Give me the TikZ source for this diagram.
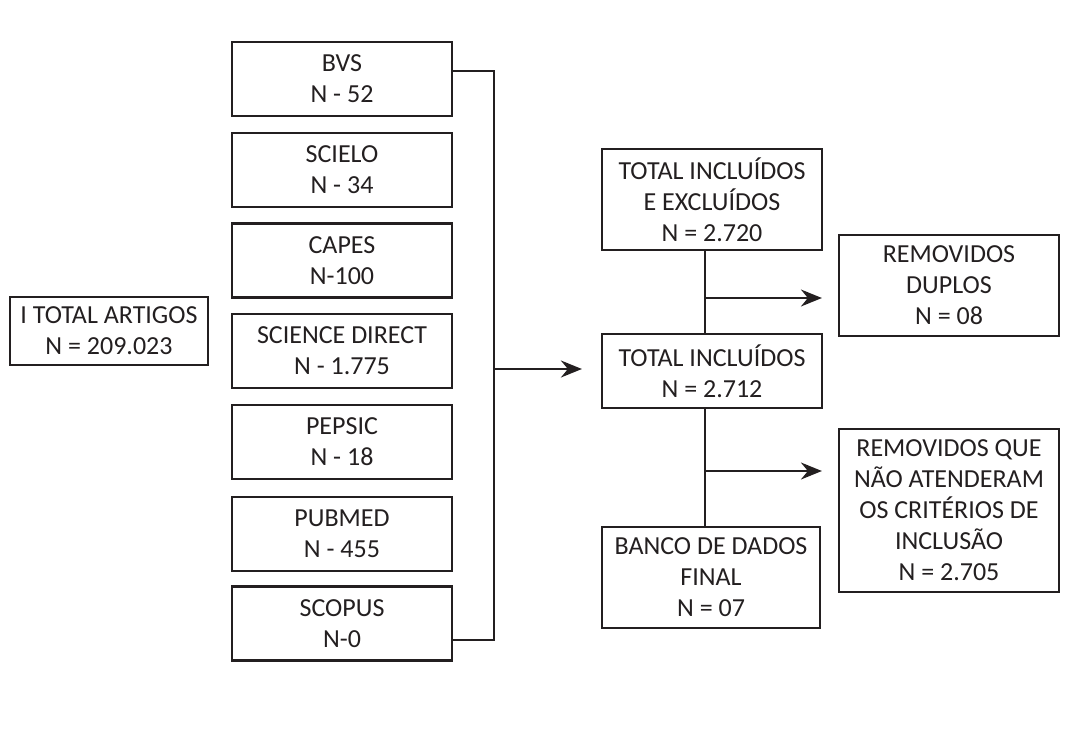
\documentclass[tikz,border=0pt]{standalone}
\usepackage{fontspec}
\setmainfont{Carlito}
\usetikzlibrary{arrows.meta}
\definecolor{ink}{HTML}{231F20}
\begin{document}
\begin{tikzpicture}[x=1pt,y=-1pt,
  box/.style={draw=ink,line width=2.2pt,text=ink,align=center,inner sep=0pt,
    font=\fontsize{26}{31}\selectfont},
  link/.style={draw=ink,line width=2.2pt},
  arr/.style={link,-{Stealth[length=21pt,width=17pt,inset=7pt]}}]
\useasboundingbox (0,0) rectangle (1089,742);
% left box
\node[box,minimum width=198pt,minimum height=68pt] (tot) at (109,331) {I TOTAL ARTIGOS\\N = 209.023};
% sources
\tikzset{src/.style={box,minimum width=220pt,minimum height=74pt}}
\node[src] (bvs) at (342,79) {BVS\\N - 52};
\node[src] (scielo) at (342,170) {SCIELO\\N - 34};
\node[src] (capes) at (342,260.5) {CAPES\\N-100};
\node[src] (sd) at (342,351) {SCIENCE DIRECT\\N - 1.775};
\node[src] (pepsic) at (342,442) {PEPSIC\\N - 18};
\node[src] (pubmed) at (342,534) {PUBMED\\N - 455};
\node[src] (scopus) at (342,623.5) {SCOPUS\\N-0};
% middle column
\node[box,minimum width=220pt,minimum height=101pt] (tie) at (712,199.5) {TOTAL INCLUÍDOS\\E EXCLUÍDOS\\N = 2.720};
\node[box,minimum width=220pt,minimum height=74pt] (ti) at (712,371) {TOTAL INCLUÍDOS\\N = 2.712};
\node[box,minimum width=218pt,minimum height=101pt] (fin) at (711,577.5) {BANCO DE DADOS\\FINAL\\N = 07};
% right column
\node[box,minimum width=220pt,minimum height=101pt] (dup) at (949,285.5) {REMOVIDOS\\DUPLOS\\N = 08};
\node[box,minimum width=220pt,minimum height=163pt] (rem) at (949,510.5) {REMOVIDOS QUE\\NÃO ATENDERAM\\OS CRITÉRIOS DE\\INCLUSÃO\\N = 2.705};
% bracket
\coordinate (bt) at (494,71);
\coordinate (bb) at (494,640);
\coordinate (bm) at (494,369);
\draw[link] (bvs.east|-bt) -- (bt) -- (bb) -- (scopus.east|-bb);
\draw[arr,shorten >=19pt] (bm) -- (ti.west|-bm);
% vertical flow
\coordinate (v1) at (705,0);
\draw[link] (tie.south-|v1) -- (ti.north-|v1);
\draw[link] (ti.south-|v1) -- (fin.north-|v1);
\coordinate (a1) at (705,298);
\coordinate (a2) at (705,471);
\draw[arr,shorten >=16pt] (a1) -- (dup.west|-a1);
\draw[arr,shorten >=16pt] (a2) -- (rem.west|-a2);
\end{tikzpicture}
\end{document}
